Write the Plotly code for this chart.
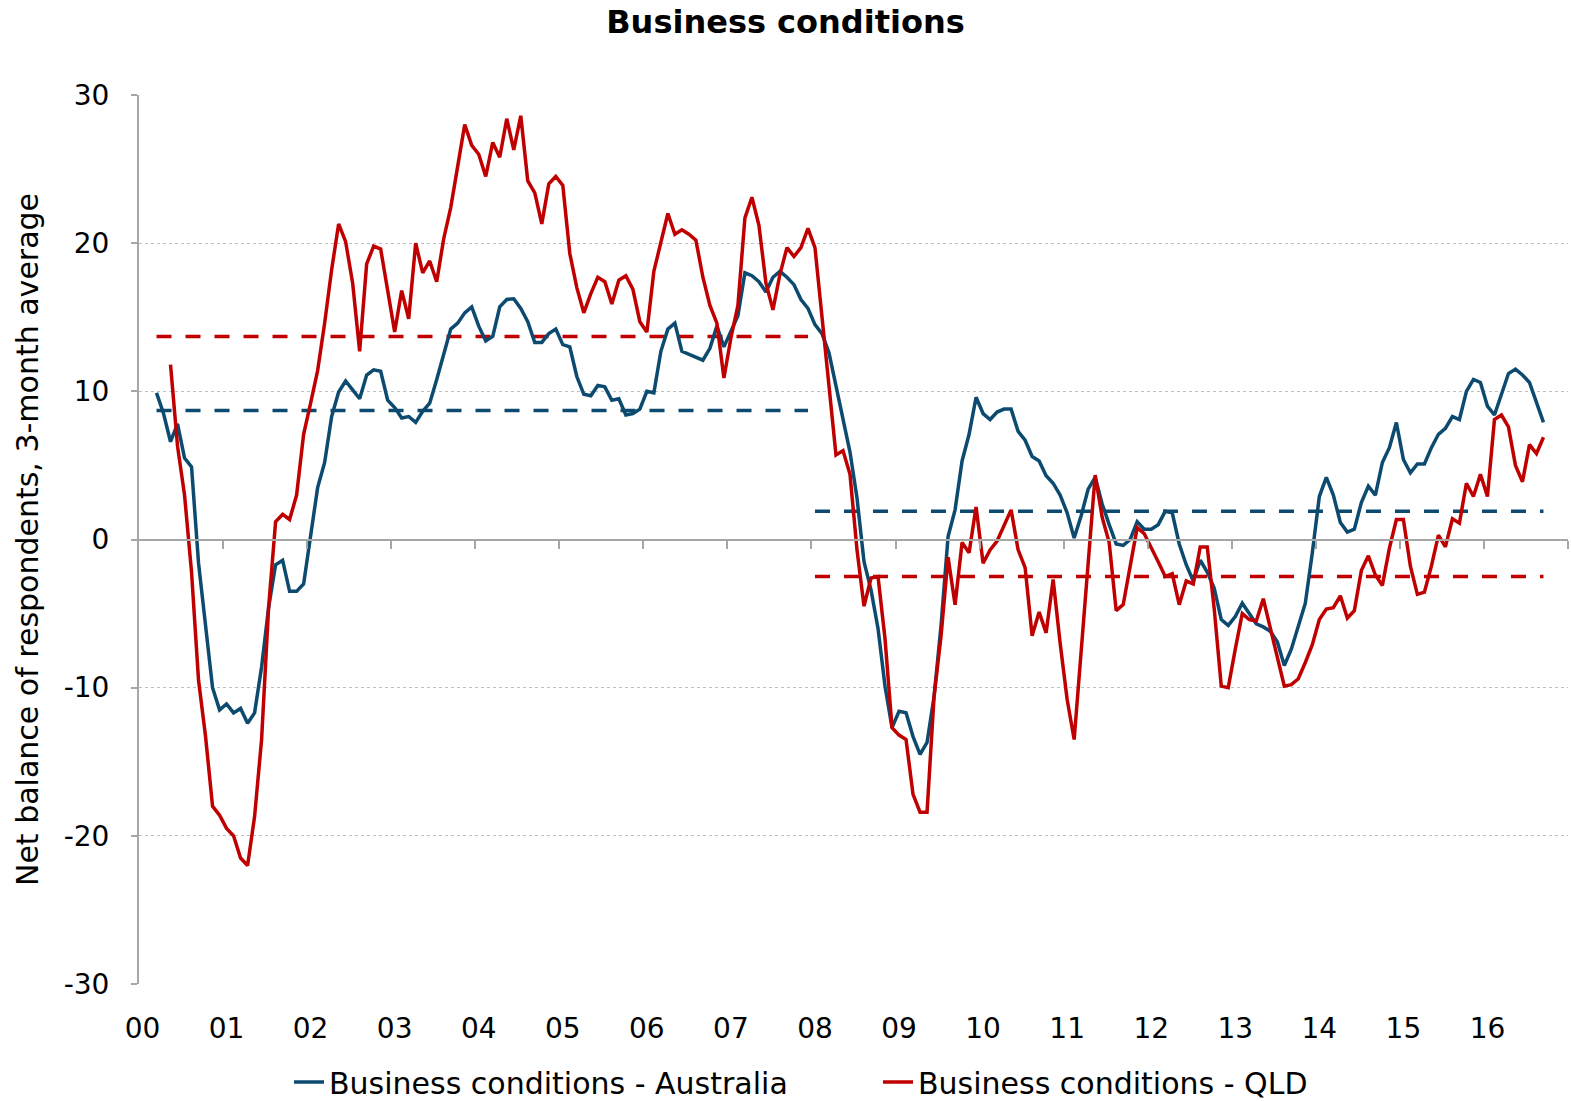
import plotly.graph_objects as go

# ---- data (month index 0 = Jan 2000) ----
year_labels = ["00", "01", "02", "03", "04", "05", "06", "07", "08",
               "09", "10", "11", "12", "13", "14", "15", "16"]
y_ticks = [-30, -20, -10, 0, 10, 20, 30]
y_tick_labels = ["-30", "-20", "-10", "0", "10", "20", "30"]

aus_start = 2   # Mar 2000
australia = [
    9.9, 8.5, 6.6, 7.8, 5.5, 4.9, -1.6, -5.8, -10.0, -11.5,
    -11.1, -11.7, -11.4, -12.4, -11.7, -8.6, -4.6, -1.7, -1.4, -3.5,
    -3.5, -3.0, 0.4, 3.5, 5.2, 8.3, 9.95, 10.7, 10.1, 9.5,
    11.1, 11.45, 11.35, 9.4, 8.9, 8.2, 8.3, 7.9, 8.65, 9.2,
    10.8, 12.6, 14.2, 14.6, 15.3, 15.7, 14.4, 13.4, 13.7, 15.7,
    16.2, 16.25, 15.6, 14.7, 13.3, 13.3, 13.9, 14.2, 13.15, 13.0,
    11.0, 9.8, 9.7, 10.4, 10.3, 9.4, 9.5, 8.4, 8.5, 8.8,
    10.0, 9.9, 12.7, 14.2, 14.6, 12.7, 12.5, 12.3, 12.1, 12.9,
    14.4, 13.0, 14.0, 15.1, 18.0, 17.8, 17.4, 16.7, 17.7, 18.1,
    17.7, 17.2, 16.2, 15.6, 14.5, 13.9, 12.6, 10.3, 8.2, 5.9,
    2.8, -1.5, -3.4, -6.0, -9.9, -12.7, -11.6, -11.7, -13.3, -14.5,
    -13.7, -10.6, -5.8, 0.2, 2.0, 5.3, 7.1, 9.6, 8.5, 8.1,
    8.6, 8.8, 8.8, 7.3, 6.7, 5.6, 5.3, 4.3, 3.8, 3.0,
    1.8, 0.1, 1.6, 3.4, 4.2, 2.4, 1.0, -0.3, -0.4, 0.0,
    1.2, 0.7, 0.7, 1.0, 1.9, 1.8, -0.3, -1.7, -2.8, -1.4,
    -2.2, -3.3, -5.4, -5.8, -5.2, -4.3, -5.0, -5.7, -5.9, -6.2,
    -6.9, -8.5, -7.4, -5.9, -4.3, -0.9, 2.9, 4.2, 3.0, 1.15,
    0.5, 0.7, 2.5, 3.6, 3.0, 5.2, 6.2, 7.9, 5.4, 4.5,
    5.1, 5.1, 6.2, 7.1, 7.5, 8.3, 8.1, 10.0, 10.8, 10.6,
    9.0, 8.4, 9.8, 11.2, 11.5, 11.1, 10.6, 9.3, 7.9,
]

qld_start = 4   # May 2000
qld = [
    11.8, 6.3, 3.0, -2.2, -9.5, -13.3, -18.0, -18.6, -19.5, -20.0,
    -21.5, -22.0, -18.7, -13.5, -4.6, 1.2, 1.7, 1.35, 3.0, 7.1,
    9.2, 11.4, 14.6, 18.2, 21.3, 20.1, 17.3, 12.7, 18.6, 19.8,
    19.6, 16.8, 14.0, 16.8, 14.9, 20.0, 18.0, 18.8, 17.4, 20.3,
    22.4, 25.2, 28.0, 26.6, 26.0, 24.5, 26.8, 25.8, 28.4, 26.3,
    28.6, 24.2, 23.4, 21.3, 24.0, 24.5, 23.9, 19.3, 17.0, 15.3,
    16.6, 17.7, 17.4, 15.9, 17.5, 17.8, 16.9, 14.7, 14.0, 18.1,
    20.0, 22.0, 20.6, 20.9, 20.6, 20.2, 17.7, 15.8, 14.6, 10.9,
    13.6, 15.8, 21.7, 23.1, 21.2, 17.3, 15.5, 17.9, 19.7, 19.1,
    19.7, 21.0, 19.7, 14.9, 10.1, 5.7, 6.0, 4.4, -0.7, -4.5,
    -2.6, -2.5, -6.7, -12.7, -13.2, -13.5, -17.2, -18.4, -18.4, -10.6,
    -6.5, -1.2, -4.4, -0.2, -0.9, 2.2, -1.6, -0.7, -0.1, 1.0,
    2.0, -0.7, -1.9, -6.5, -4.9, -6.3, -2.7, -7.0, -10.8, -13.5,
    -7.3, -1.3, 4.35, 1.5, -0.2, -4.8, -4.4, -1.8, 0.8, 0.4,
    -0.5, -1.5, -2.5, -2.3, -4.4, -2.8, -3.0, -0.5, -0.5, -4.7,
    -9.9, -10.0, -7.4, -5.0, -5.4, -5.5, -4.0, -5.9, -7.9, -9.9,
    -9.8, -9.4, -8.3, -7.1, -5.4, -4.7, -4.6, -3.8, -5.3, -4.8,
    -2.1, -1.1, -2.4, -3.1, -0.6, 1.35, 1.35, -1.8, -3.7, -3.55,
    -1.8, 0.3, -0.5, 1.4, 1.1, 3.8, 2.9, 4.4, 2.9, 8.1,
    8.4, 7.6, 5.0, 3.9, 6.4, 5.8, 6.9,
]

# period averages (pre-2008 / post-2008)
avg_period_start = [2, 96]
avg_period_end = [95, 200]
aus_avg = [8.7, 1.9]
qld_avg = [13.7, -2.5]

n_months = 204
BLUE = "#0d4a6f"
RED = "#c00000"
FONT = "DejaVu Sans"

aus_x = list(range(aus_start, aus_start + len(australia)))
qld_x = list(range(qld_start, qld_start + len(qld)))

fig = go.Figure()

for i in range(2):
    xs = [avg_period_start[i], avg_period_end[i]]
    fig.add_trace(go.Scatter(x=xs, y=[aus_avg[i]] * 2, mode="lines",
                             line=dict(color=BLUE, width=3.5, dash="15px,14px"),
                             showlegend=False, hoverinfo="skip"))
    fig.add_trace(go.Scatter(x=xs, y=[qld_avg[i]] * 2, mode="lines",
                             line=dict(color=RED, width=3.5, dash="15px,14px"),
                             showlegend=False, hoverinfo="skip"))

fig.add_trace(go.Scatter(x=aus_x, y=australia, mode="lines",
                         name="Business conditions - Australia",
                         line=dict(color=BLUE, width=3.5)))
fig.add_trace(go.Scatter(x=qld_x, y=qld, mode="lines",
                         name="Business conditions - QLD",
                         line=dict(color=RED, width=3.5)))

# helper invisible trace for the zero-crossing axis
fig.add_trace(go.Scatter(x=[0], y=[0], xaxis="x2", mode="markers",
                         marker=dict(opacity=0), showlegend=False,
                         hoverinfo="skip"))

xrange = [-0.5, n_months - 0.5]
fig.update_layout(
    width=1571, height=1101,
    paper_bgcolor="white", plot_bgcolor="white",
    margin=dict(l=139, r=3, t=95, b=117),
    font=dict(family=FONT, size=28, color="black"),
    title=dict(text="<b>Business conditions</b>", x=0.5, xanchor="center",
               y=1 - 22 / 1101, yanchor="middle", yref="container",
               font=dict(family=FONT, size=32, color="black")),
    showlegend=True,
    legend=dict(orientation="h", xref="container", x=(287 + 2) / 1571,
                xanchor="left", yref="container",
                y=(1101 - 1082) / 1101, yanchor="middle",
                font=dict(family=FONT, size=30, color="black"),
                entrywidth=544, entrywidthmode="pixels",
                traceorder="normal", bgcolor="rgba(0,0,0,0)"),
    xaxis=dict(range=xrange, tickmode="array",
               tickvals=[12 * k for k in range(len(year_labels))],
               ticktext=year_labels, showgrid=False, zeroline=False,
               showline=False, ticks="", ticklabelstandoff=25,
               tickfont=dict(size=28)),
    xaxis2=dict(range=xrange, overlaying="x", anchor="free", position=0.5,
                side="bottom", showline=True, linecolor="#a6a6a6",
                linewidth=2, ticks="outside", ticklen=8, tickwidth=2,
                tickcolor="#a6a6a6", tickmode="array",
                tickvals=[11.5 + 12 * k for k in range(len(year_labels))],
                showticklabels=False, showgrid=False, zeroline=False),
    yaxis=dict(range=[-30, 30], tickmode="array", tickvals=y_ticks,
               ticktext=y_tick_labels,
               showgrid=True, gridcolor="#b7c3cb", griddash="dot",
               gridwidth=1, zeroline=False,
               showline=True, linecolor="#a6a6a6", linewidth=2,
               ticks="outside", ticklen=6, tickwidth=2, tickcolor="#a6a6a6",
               ticklabelstandoff=16, tickfont=dict(size=28),
               title=dict(text="Net balance of respondents, 3-month average",
                          font=dict(size=30), standoff=16)),
)

fig.write_html("out.html", config={"displayModeBar": False},
               post_script="document.body.style.margin='0';document.body.style.overflow='hidden';")
